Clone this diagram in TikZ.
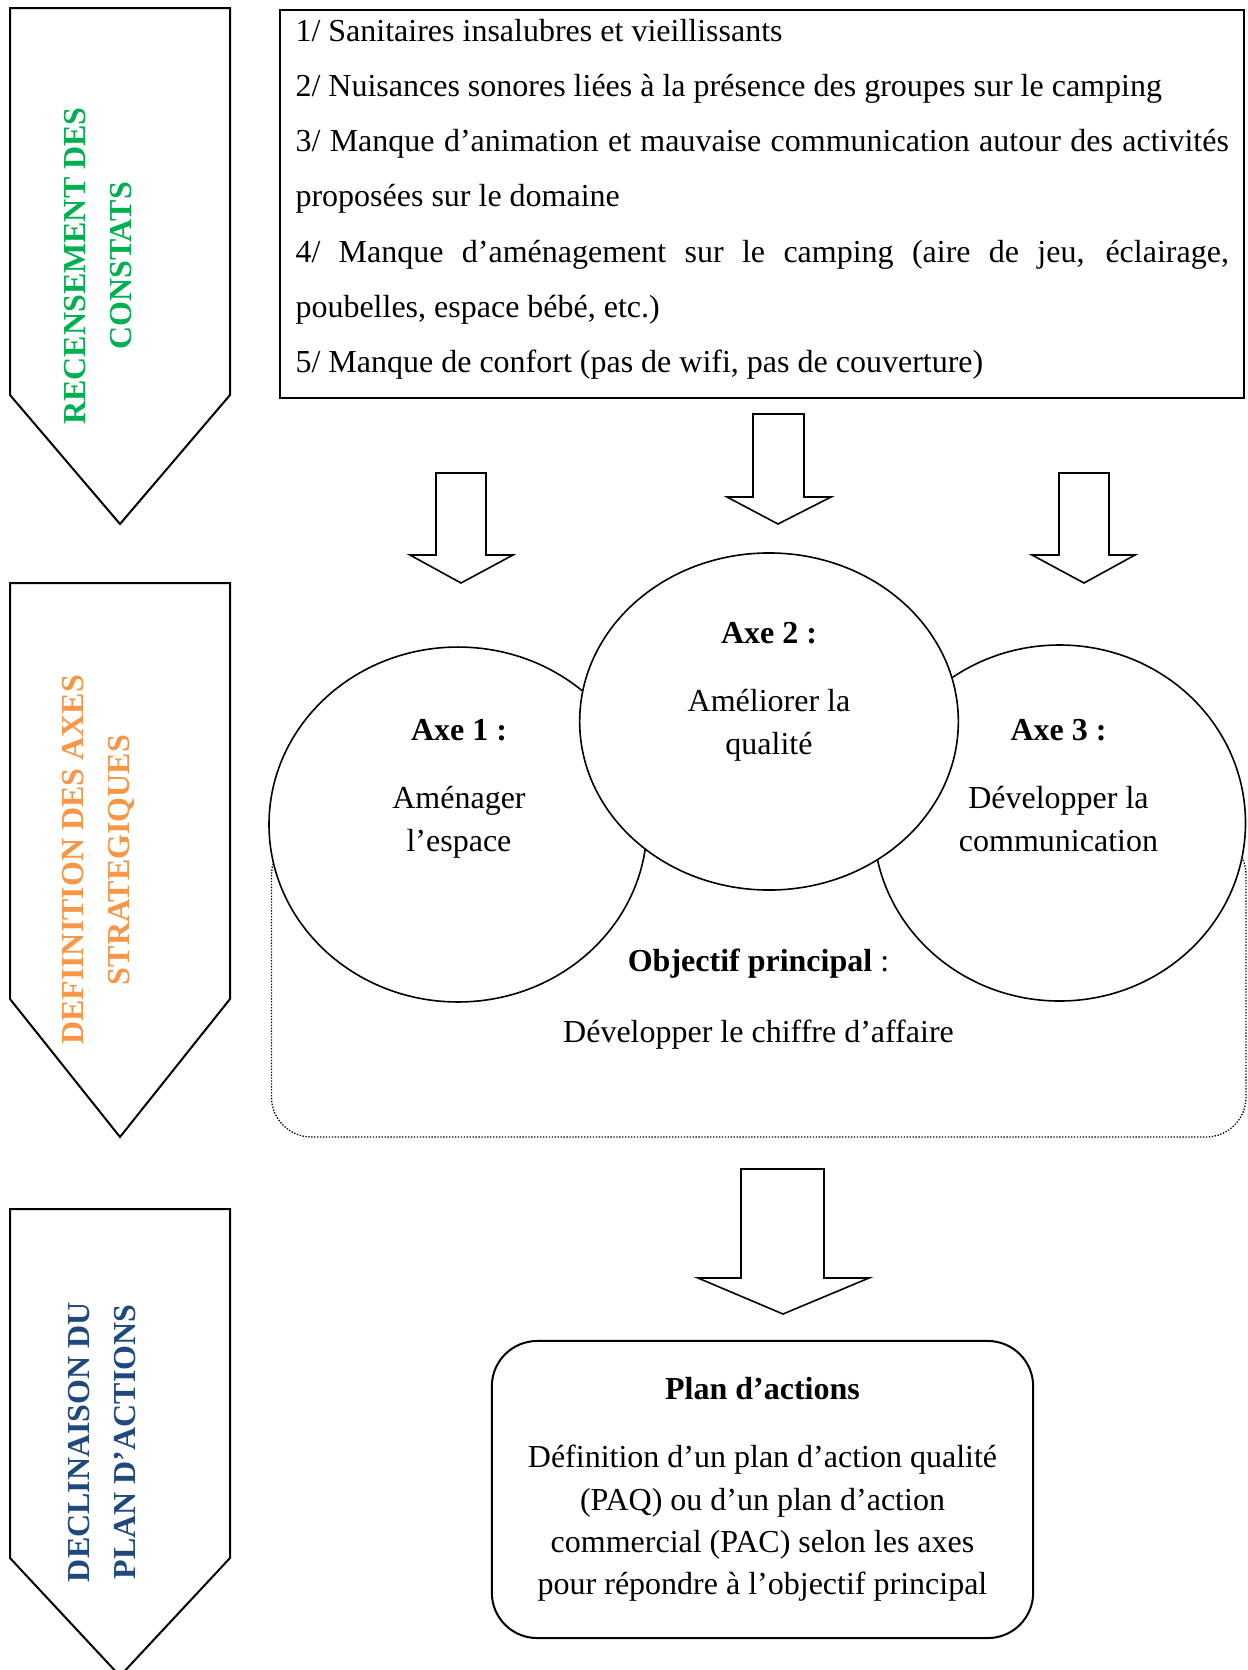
\documentclass[tikz,border=0pt]{standalone}
\usepackage{fontspec}
\setmainfont{Liberation Serif}
\usetikzlibrary{shapes.geometric}
\definecolor{constatgreen}{HTML}{00B050}
\definecolor{axesorange}{HTML}{F79646}
\definecolor{planblue}{HTML}{1F497D}
\setlength{\parindent}{0pt}

\begin{document}
\begin{tikzpicture}[x=0.375pt, y=-0.375pt,
  chevron/.style={draw, line width=0.75pt},
  chevrontext/.style={rotate=90, align=center, inner sep=0pt, font=\bfseries\fontsize{12}{17.25}\selectfont},
  blockarrow/.style={draw, fill=white, line width=0.6pt},
  axe/.style={draw, fill=white, ellipse, line width=0.6pt, inner sep=0pt},
  axetext/.style={anchor=north, align=center, inner sep=0pt, font=\fontsize{12}{15.9}\selectfont}]
\useasboundingbox (0,0) rectangle (1247,1670);
\clip (0,0) rectangle (1247,1670);

% the three steps on the left
\draw[chevron] (10,8) -- (230,8) -- (230,395) -- (120,524) -- (10,395) -- cycle;
\draw[chevron] (10,583) -- (230,583) -- (230,999) -- (120,1137) -- (10,999) -- cycle;
\draw[chevron] (10,1209) -- (230,1209) -- (230,1558) -- (120,1676) -- (10,1558) -- cycle;
\node[chevrontext, text=constatgreen] (recensement) at (98,266) {RECENSEMENT DES\\CONSTATS};
\node[chevrontext, text=axesorange] (definition) at (98,860) {DEFIINITION DES AXES\\STRATEGIQUES};
\node[chevrontext, text=planblue] (declinaison) at (102,1442) {DECLINAISON DU\\PLAN D’ACTIONS};

% constats
\draw[line width=0.75pt] (280,10) rectangle (1244,398);
\node[anchor=north west, inner sep=0pt, text width=350pt, align=justify,
      font=\fontsize{12}{20.7}\selectfont] (constats) at (295,18.6)
  {\hyphenpenalty=10000 \tolerance=9999
   1/ Sanitaires insalubres et vieillissants\par
   2/ Nuisances sonores liées à la présence des groupes sur le camping\par
   3/ Manque d’animation et mauvaise communication autour des activités\linebreak proposées sur le domaine\par
   4/ Manque d’aménagement sur le camping (aire de jeu, éclairage,\linebreak poubelles, espace bébé, etc.)\par
   5/ Manque de confort (pas de wifi, pas de couverture)};

% arrows
\draw[blockarrow] (436,473) -- (486,473) -- (486,555) -- (513,555) -- (461,583) -- (410,555) -- (436,555) -- cycle;
\draw[blockarrow] (753,414) -- (804,414) -- (804,497) -- (831,497) -- (778,524) -- (727,497) -- (753,497) -- cycle;
\draw[blockarrow] (1059,473) -- (1109,473) -- (1109,555) -- (1135,555) -- (1084,583) -- (1032,555) -- (1059,555) -- cycle;
\draw[blockarrow] (741,1169) -- (824,1169) -- (824,1278) -- (869,1278) -- (783,1314) -- (698,1278) -- (741,1278) -- cycle;

% axes
\draw[line width=0.5pt, dash pattern=on 0.5pt off 0.6pt, rounded corners=15pt] (271.5,835) rectangle (1246,1137);
\node[axe, minimum width=141.75pt, minimum height=133.1pt] (axe1) at (458,824.5) {};
\node[axe, minimum width=139.5pt, minimum height=133.5pt] (axe3) at (1059.5,823) {};
\node[axe, minimum width=142pt, minimum height=126.4pt] (axe2) at (769,721.5) {};
\node[axetext] (axe1txt) at (459,719) {\textbf{Axe 1 :}\\[9.6pt]Aménager\\l’espace};
\node[axetext] (axe2txt) at (769,622) {\textbf{Axe 2 :}\\[9.6pt]Améliorer la\\qualité};
\node[axetext] (axe3txt) at (1058.5,719) {\textbf{Axe 3 :}\\[9.6pt]Développer la\\communication};
\node[axetext] (objectif) at (758.5,948) {\textbf{Objectif principal} :\\[10.7pt]Développer le chiffre d’affaire};

% plan
\node[draw, line width=0.75pt, rounded corners=17pt, minimum width=203pt, minimum height=111.4pt,
      align=center, inner sep=0pt, font=\fontsize{12}{15.9}\selectfont] (plan) at (762.5,1489.5)
  {\textbf{Plan d’actions}\\[9.6pt]Définition d’un plan d’action qualité\\(PAQ) ou d’un plan d’action\\commercial (PAC) selon les axes\\pour répondre à l’objectif principal};
\end{tikzpicture}
\end{document}
